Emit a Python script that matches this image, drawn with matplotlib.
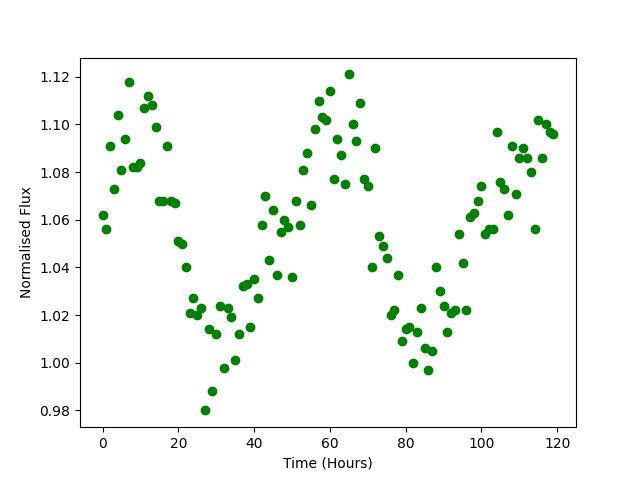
import matplotlib
matplotlib.use("Agg")
import matplotlib.pyplot as plt
import numpy as np

# hours 0..119, one reading per hour
hours = np.arange(120)
flux = [
    1.062, 1.056, 1.091, 1.073, 1.104, 1.081, 1.094, 1.118, 1.082, 1.082,
    1.084, 1.107, 1.112, 1.108, 1.099, 1.068, 1.068, 1.091, 1.068, 1.067,
    1.051, 1.050, 1.040, 1.021, 1.027, 1.020, 1.023, 0.980, 1.014, 0.988,
    1.012, 1.024, 0.998, 1.023, 1.019, 1.001, 1.012, 1.032, 1.033, 1.015,
    1.035, 1.027, 1.058, 1.070, 1.043, 1.064, 1.037, 1.055, 1.060, 1.057,
    1.036, 1.068, 1.058, 1.081, 1.088, 1.066, 1.098, 1.110, 1.103, 1.102,
    1.114, 1.077, 1.094, 1.087, 1.075, 1.121, 1.100, 1.093, 1.109, 1.077,
    1.074, 1.040, 1.090, 1.053, 1.049, 1.044, 1.020, 1.022, 1.037, 1.009,
    1.014, 1.015, 1.000, 1.013, 1.023, 1.006, 0.997, 1.005, 1.040, 1.030,
    1.024, 1.013, 1.021, 1.022, 1.054, 1.042, 1.022, 1.061, 1.063, 1.068,
    1.074, 1.054, 1.056, 1.056, 1.097, 1.076, 1.073, 1.062, 1.091, 1.071,
    1.086, 1.090, 1.086, 1.080, 1.056, 1.102, 1.086, 1.100, 1.097, 1.096,
]

fig, ax = plt.subplots(figsize=(6.4, 4.8), dpi=100)
ax.plot(hours, flux, "o", color="green")
ax.set_xlabel("Time (Hours)")
ax.set_ylabel("Normalised Flux")
fig.savefig("out.png")
